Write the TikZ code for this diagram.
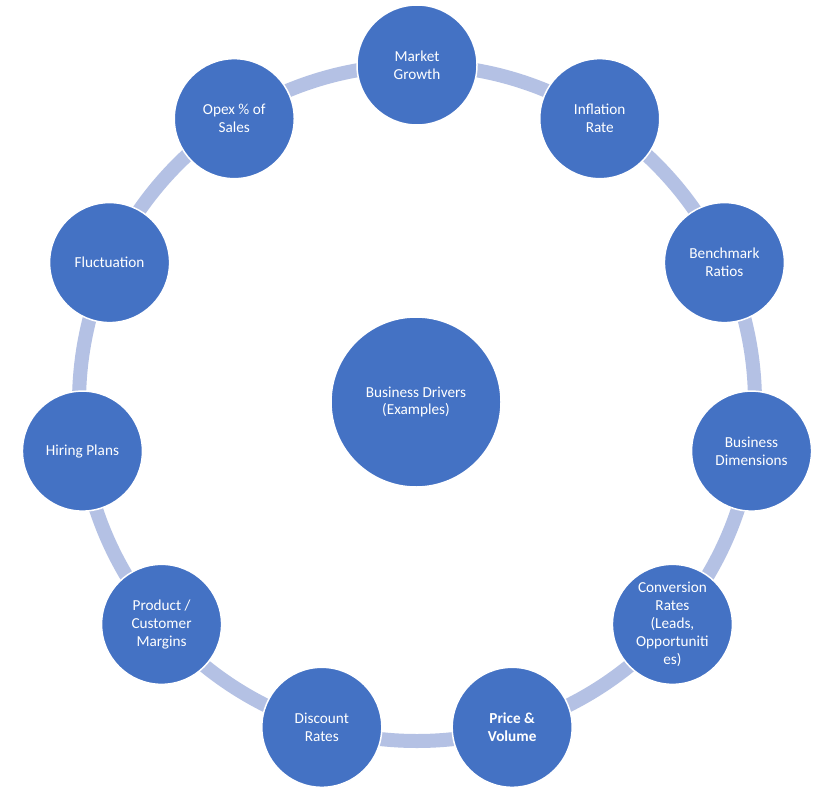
\documentclass[tikz,border=0pt]{standalone}
\usepackage{fontspec}
\setmainfont{Carlito}
\usetikzlibrary{calc}
\definecolor{nodeblue}{RGB}{68,114,196}
\definecolor{ringblue}{RGB}{180,193,228}
\begin{document}
\begin{tikzpicture}[x=1bp,y=1bp,
  outer/.style={circle,fill=nodeblue,draw=white,line width=1.5bp,minimum size=120bp,inner sep=0pt,
    text=white,align=center,font=\fontsize{15.3}{18}\selectfont},
  hub/.style={circle,fill=nodeblue,draw=white,line width=1.5bp,minimum size=170bp,inner sep=0pt,
    text=white,align=center,font=\fontsize{15.3}{18}\selectfont},
  ring/.style={draw=ringblue,line width=14bp}]
\useasboundingbox[fill=white] (0,0) rectangle (833,-800);
\coordinate (c) at (417,-403);
\draw[ring] (c) circle[radius=338];
\node[hub] (center) at (416,-402) {Business Drivers\\(Examples)};
\node[outer] (n0) at ($(c)+(90:338)$) {Market\\Growth};
\node[outer] (n1) at ($(c)+(57.27:338)$) {Inflation\\Rate};
\node[outer] (n2) at ($(c)+(24.55:338)$) {Benchmark\\Ratios};
\node[outer] (n3) at ($(c)+(-8.18:338)$) {Business\\Dimensions};
\node[outer] (n4) at ($(c)+(-40.91:338)$) {Conversion\\Rates\\(Leads,\\Opportuniti\\es)};
\node[outer] (n5) at ($(c)+(-73.64:338)$) {\bfseries Price \&\\\bfseries Volume};
\node[outer] (n6) at ($(c)+(-106.36:338)$) {Discount\\Rates};
\node[outer] (n7) at ($(c)+(-139.09:338)$) {Product /\\Customer\\Margins};
\node[outer] (n8) at ($(c)+(-171.82:338)$) {Hiring Plans};
\node[outer] (n9) at ($(c)+(155.45:338)$) {Fluctuation};
\node[outer] (n10) at ($(c)+(122.73:338)$) {Opex \% of\\Sales};
\end{tikzpicture}
\end{document}
